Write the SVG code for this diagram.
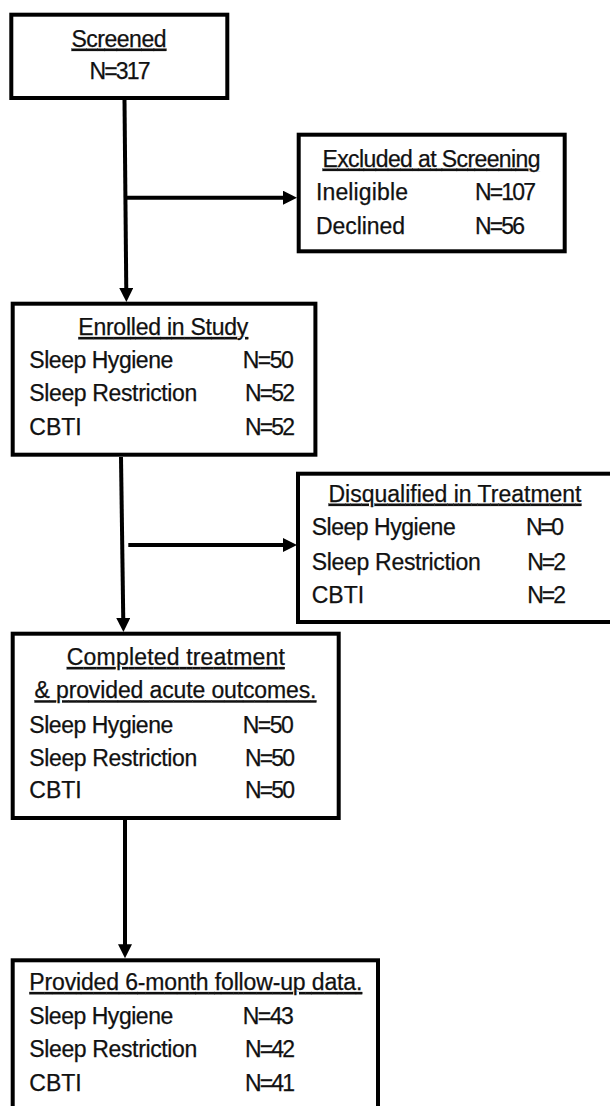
<svg xmlns="http://www.w3.org/2000/svg" width="610" height="1106" viewBox="0 0 610 1106">
<style>
.box{fill:#fff;stroke:#000;stroke-width:4}
.t{font-family:"Liberation Sans",Arial,sans-serif;font-size:23px;fill:#111;stroke:#111;stroke-width:0.25}
.h{text-decoration:underline}
.c{text-anchor:middle}
.ln{stroke:#000;stroke-width:4;fill:none}
</style>
<defs>
<marker id="ah" markerUnits="userSpaceOnUse" markerWidth="15" markerHeight="15" refX="4" refY="7" orient="auto" viewBox="0 0 15 15">
<path d="M0,0 L14,7 L0,14 Z" fill="#000"/>
</marker>
</defs>
<rect width="610" height="1106" fill="#fff"/>
<g id="connectors">
<line class="ln" x1="124.5" y1="100" x2="126.3" y2="292" marker-end="url(#ah)"/>
<line class="ln" x1="124.5" y1="197.7" x2="287" y2="197.7" marker-end="url(#ah)"/>
<line class="ln" x1="121" y1="457" x2="123.3" y2="622" marker-end="url(#ah)"/>
<line class="ln" x1="128.3" y1="545" x2="287" y2="545" marker-end="url(#ah)"/>
<line class="ln" x1="125" y1="820" x2="125" y2="948.3" marker-end="url(#ah)"/>
</g>
<g id="screened">
<rect class="box" x="11.3" y="14.7" width="216" height="83.3"/>
<text class="t c h" x="119" y="46.7" textLength="95">Screened</text>
<text class="t c" x="120" y="79.3" textLength="61">N=317</text>
</g>
<g id="excluded">
<rect class="box" x="298.7" y="134.7" width="266" height="116.6"/>
<text class="t c h" x="431.5" y="166.7" textLength="218">Excluded at Screening</text>
<text class="t" x="316" y="200" textLength="92">Ineligible</text>
<text class="t" x="475" y="200" textLength="61">N=107</text>
<text class="t" x="316" y="234.3" textLength="89">Declined</text>
<text class="t" x="475" y="234.3" textLength="50">N=56</text>
</g>
<g id="enrolled">
<rect class="box" x="12.7" y="303.7" width="302.7" height="151"/>
<text class="t c h" x="163.3" y="335" textLength="170">Enrolled in Study</text>
<text class="t" x="29.3" y="367.7" textLength="144">Sleep Hygiene</text>
<text class="t" x="242.7" y="367.7" textLength="51">N=50</text>
<text class="t" x="29.3" y="401" textLength="168">Sleep Restriction</text>
<text class="t" x="245" y="401" textLength="50">N=52</text>
<text class="t" x="29.3" y="435">CBTI</text>
<text class="t" x="245" y="435" textLength="50">N=52</text>
</g>
<g id="disqualified">
<rect class="box" x="298" y="473.7" width="330" height="148.3"/>
<text class="t c h" x="455" y="501.7" textLength="253">Disqualified in Treatment</text>
<text class="t" x="311.7" y="535" textLength="144">Sleep Hygiene</text>
<text class="t" x="526" y="535" textLength="38">N=0</text>
<text class="t" x="311.7" y="570" textLength="169">Sleep Restriction</text>
<text class="t" x="527.3" y="570" textLength="38.7">N=2</text>
<text class="t" x="311.7" y="603.3">CBTI</text>
<text class="t" x="527.3" y="603.3" textLength="38.7">N=2</text>
</g>
<g id="completed">
<rect class="box" x="12.7" y="633.7" width="326" height="184.3"/>
<text class="t c h" x="175.8" y="665" textLength="218">Completed treatment</text>
<text class="t c h" x="175.5" y="698.3" textLength="282">&amp; provided acute outcomes.</text>
<text class="t" x="29.3" y="732.7" textLength="144">Sleep Hygiene</text>
<text class="t" x="242.7" y="732.7" textLength="51">N=50</text>
<text class="t" x="29.3" y="766" textLength="168">Sleep Restriction</text>
<text class="t" x="245" y="766" textLength="50">N=50</text>
<text class="t" x="29.3" y="798.3">CBTI</text>
<text class="t" x="245" y="798.3" textLength="50">N=50</text>
</g>
<g id="followup">
<rect class="box" x="12.7" y="960.3" width="365.3" height="170"/>
<text class="t h" x="29.3" y="990" textLength="333">Provided 6-month follow-up data.</text>
<text class="t" x="29.3" y="1024" textLength="144">Sleep Hygiene</text>
<text class="t" x="242.7" y="1024" textLength="51">N=43</text>
<text class="t" x="29.3" y="1057.3" textLength="168">Sleep Restriction</text>
<text class="t" x="245" y="1057.3" textLength="50">N=42</text>
<text class="t" x="29.3" y="1090.7">CBTI</text>
<text class="t" x="245" y="1090.7" textLength="50">N=41</text>
</g>
</svg>
